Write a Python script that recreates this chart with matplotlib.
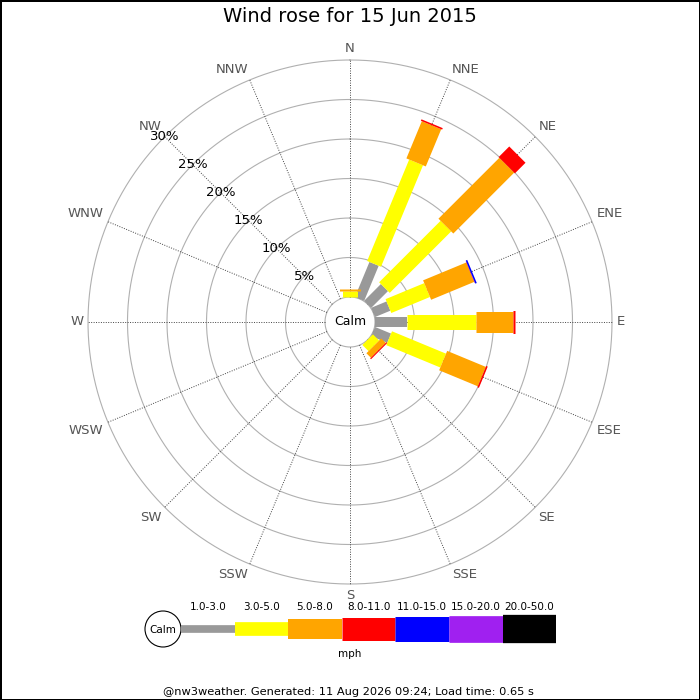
import numpy as np
import matplotlib
matplotlib.use('Agg')
import matplotlib.pyplot as plt
from matplotlib.patches import Circle

# === Datos ===
directions = ['N', 'NNE', 'NE', 'ENE', 'E', 'ESE', 'SE', 'SSE',
              'S', 'SSW', 'SW', 'WSW', 'W', 'WNW', 'NW', 'NNW']
speed_bins = ['1.0-3.0', '3.0-5.0', '5.0-8.0', '8.0-11.0',
              '11.0-15.0', '15.0-20.0', '20.0-50.0']

# % de tiempo por direccion, un array por rango de velocidad
freq_1_3 = [0, 4.8, 3.0, 2.1, 4.0, 2.2, 0, 0, 0, 0, 0, 0, 0, 0, 0, 0]
freq_3_5 = [0.75, 13.9, 11.0, 5.3, 8.75, 7.4, 1.1, 0, 0, 0, 0, 0, 0, 0, 0, 0]
freq_5_8 = [0.2, 5.1, 10.9, 5.9, 4.75, 5.3, 0.8, 0, 0, 0, 0, 0, 0, 0, 0, 0]
freq_8_11 = [0, 0.2, 1.9, 0.05, 0.2, 0.2, 0.15, 0, 0, 0, 0, 0, 0, 0, 0, 0]
freq_11_15 = [0, 0, 0, 0.2, 0, 0, 0, 0, 0, 0, 0, 0, 0, 0, 0, 0]
freq_15_20 = [0] * 16
freq_20_50 = [0] * 16
freqs = [freq_1_3, freq_3_5, freq_5_8, freq_8_11, freq_11_15, freq_15_20, freq_20_50]

ring_pcts = [5, 10, 15, 20, 25, 30]

title = 'Wind rose for 15 Jun 2015'
footer = '@nw3weather. Generated: 11 Aug 2026 09:24; Load time: 0.65 s'

# === Estilos ===
colors = ['#999999', '#ffff00', '#ffa500', '#ff0000', '#0000ff', '#a020f0', '#000000']
rose_widths_px = [10, 15, 21, 23, 25, 27, 28.5]
legend_widths_px = [7.7, 13.7, 20, 23, 25, 26.7, 28.3]
PX = 0.72  # puntos por pixel a dpi 100

R_MAX = 30
CALM_PX, OUTER_PX = 25, 262
R_ORIGIN = -CALM_PX * R_MAX / (OUTER_PX - CALM_PX)

fig = plt.figure(figsize=(7, 7), dpi=100, facecolor='white',
                 edgecolor='black', linewidth=2)

# === Rosa de vientos ===
size = 2 * OUTER_PX / 700
cx, cy = 0.5, 1 - 322 / 700
ax = fig.add_axes([cx - size / 2, cy - size / 2, size, size], projection='polar')
ax.set_theta_zero_location('N')
ax.set_theta_direction(-1)
ax.set_ylim(0, R_MAX)
ax.set_rorigin(R_ORIGIN)
ax.axis('off')

th_full = np.linspace(0, 2 * np.pi, 400)
for r in [0] + ring_pcts:
    ax.plot(th_full, np.full_like(th_full, r), color='#b0b0b0', lw=0.8,
            clip_on=False, zorder=1)

angles = np.deg2rad(np.arange(16) * 22.5)
for th in angles:
    ax.plot([th, th], [0, R_MAX], color='#444444', lw=0.7, ls=(0, (1, 1.5)),
            clip_on=False, zorder=1)

# Barras apiladas
for i, th in enumerate(angles):
    base = 0
    for b in range(len(speed_bins)):
        v = freqs[b][i]
        if v > 0:
            ax.plot([th, th], [base, base + v], color=colors[b],
                    lw=rose_widths_px[b] * PX, solid_capstyle='butt',
                    clip_on=False, zorder=3 + b)
        base += v

# Etiquetas de direccion
for name, th in zip(directions, angles):
    s, c = np.sin(th), np.cos(th)
    ha = 'left' if s > 0.1 else ('right' if s < -0.1 else 'center')
    va = 'bottom' if c > 0.1 else ('top' if c < -0.1 else 'center')
    ax.text(th, 30.6, name, ha=ha, va=va, fontsize=9.5, color='#555555',
            clip_on=False)

# Etiquetas de porcentaje en NW
for r in ring_pcts:
    ax.text(np.deg2rad(315), r, f'{r}%', ha='center', va='center',
            fontsize=9.5, color='black', zorder=10)

ax.text(0.5, 0.5, 'Calm', transform=ax.transAxes, ha='center', va='center',
        fontsize=9, color='black')

# === Leyenda (coordenadas en pixeles) ===
lax = fig.add_axes([0, 0, 1, 1], zorder=-1)
lax.set_xlim(0, 700)
lax.set_ylim(700, 0)
lax.axis('off')

leg_y = 629
seg_x0, seg_len = 181, 53.6
lax.add_patch(Circle((163, leg_y), 18, facecolor='white', edgecolor='black', lw=0.8))
lax.text(163, leg_y + 1, 'Calm', ha='center', va='center', fontsize=7.5)
for b, lab in enumerate(speed_bins):
    x0 = seg_x0 + b * seg_len
    lax.plot([x0, x0 + seg_len], [leg_y, leg_y], color=colors[b],
             lw=legend_widths_px[b] * PX, solid_capstyle='butt')
    lax.text(x0 + seg_len / 2, 607, lab, ha='center', va='center', fontsize=7.5)
lax.text(350, 654, 'mph', ha='center', va='center', fontsize=7.5)

fig.text(0.5, 1 - 17 / 700, title, ha='center', va='center', fontsize=14)
fig.text(348 / 700, 1 - 692 / 700, footer, ha='center', va='center', fontsize=8.2)

fig.savefig('out.png', dpi=100)
